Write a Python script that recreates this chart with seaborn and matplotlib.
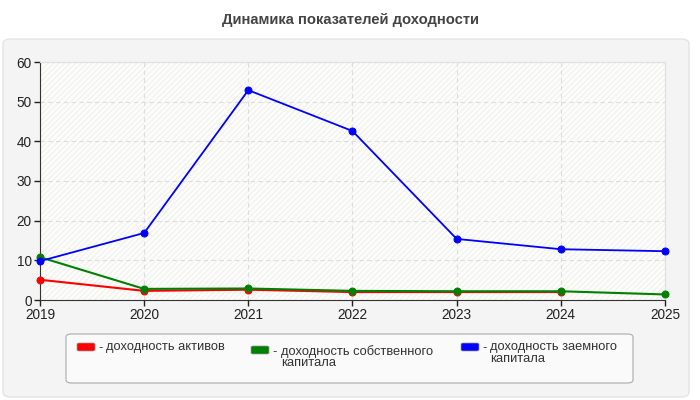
import matplotlib
matplotlib.use('Agg')
import matplotlib.pyplot as plt
from matplotlib.patches import FancyBboxPatch, Rectangle
import seaborn as sns
import pandas as pd
import numpy as np

years = [2019, 2020, 2021, 2022, 2023, 2024, 2025]
roa = [5.1, 2.3, 2.6, 2.0, 2.0, 2.0, np.nan]
roe = [10.8, 2.8, 2.9, 2.3, 2.2, 2.2, 1.4]
rod = [9.8, 16.9, 52.9, 42.6, 15.4, 12.8, 12.3]
labels = ['доходность активов', 'доходность собственного\nкапитала',
          'доходность заемного\nкапитала']
colors = ['#ff0000', '#008000', '#0000ff']

df = pd.DataFrame({'year': years, 'roa': roa, 'roe': roe, 'rod': rod})

sns.set_style('white')
plt.rcParams['font.family'] = ['Liberation Sans', 'DejaVu Sans']

W, H = 700, 400
fig = plt.figure(figsize=(7, 4), dpi=100)
fig.patch.set_facecolor('white')


def fx(px):
    return px / W


def fy(py):
    return 1 - py / H


# outer panel
panel = FancyBboxPatch((fx(3), fy(397)), fx(686), 358 / H,
                       boxstyle='round,pad=0,rounding_size=0.012',
                       transform=fig.transFigure, fc='#f4f4f4', ec='#e4e4e4',
                       lw=1, zorder=-10)
fig.patches.append(panel)

fig.text(0.5, fy(20), 'Динамика показателей доходности', ha='center',
         va='center', fontsize=10.6, fontweight='bold', color='#444444')

ax = fig.add_axes([fx(40), fy(300), 625 / W, 238 / H])
ax.set_facecolor('#fdfdfa')
ax.add_patch(Rectangle((0, 0), 1, 1, transform=ax.transAxes, fc='none',
                       ec='#f2f2f0', hatch='//////', lw=0, zorder=0))

for col, c in zip(['roa', 'roe', 'rod'], colors):
    sns.lineplot(data=df, x='year', y=col, color=c, marker='o', markersize=5,
                 markeredgecolor=c, linewidth=1.5 if col != 'rod' else 1.3,
                 ax=ax, zorder=3, clip_on=False)

ax.set_xlim(2019, 2025)
ax.set_ylim(0, 60)
ax.set_xticks(years)
ax.set_yticks(range(0, 61, 10))
ax.set_xlabel('')
ax.set_ylabel('')
ax.grid(True, ls=(0, (4, 3)), color='#dddddd', lw=0.8)
ax.tick_params(axis='both', labelsize=9.8, colors='#222222', length=4,
               width=1, direction='out', left=True, bottom=True, pad=2)
for s in ['top', 'right']:
    ax.spines[s].set_color('#e0e0e0')
for s in ['left', 'bottom']:
    ax.spines[s].set_color('#333333')

# legend frame
frame = FancyBboxPatch((fx(66), fy(383)), 567 / W, 49 / H,
                       boxstyle='round,pad=0,rounding_size=0.008',
                       transform=fig.transFigure, fc='#fafafa', ec='#aaaaaa',
                       lw=0.8, zorder=1)
fig.patches.append(frame)

# legend entries: handle x, handle top y, text x, first text line y
entries = [(77, 343, 106, 348), (251, 346, 281, 352), (461, 343, 490, 348)]
for (hx, hy, tx, ty), lab, c in zip(entries, labels, colors):
    fig.patches.append(FancyBboxPatch((fx(hx), fy(hy + 8)), fx(18), 8 / H,
                                      boxstyle='round,pad=0,rounding_size=0.003',
                                      transform=fig.transFigure, fc=c,
                                      ec='#999999', lw=0.5, zorder=2))
    fig.text(fx(hx + 21), fy(ty), '-', ha='left', va='center',
             fontsize=9.3, color='#333333')
    fig.text(fx(tx), fy(ty - 7), lab, ha='left', va='top', fontsize=9.3,
             color='#333333', linespacing=0.95)

fig.savefig('out.png', dpi=100)
